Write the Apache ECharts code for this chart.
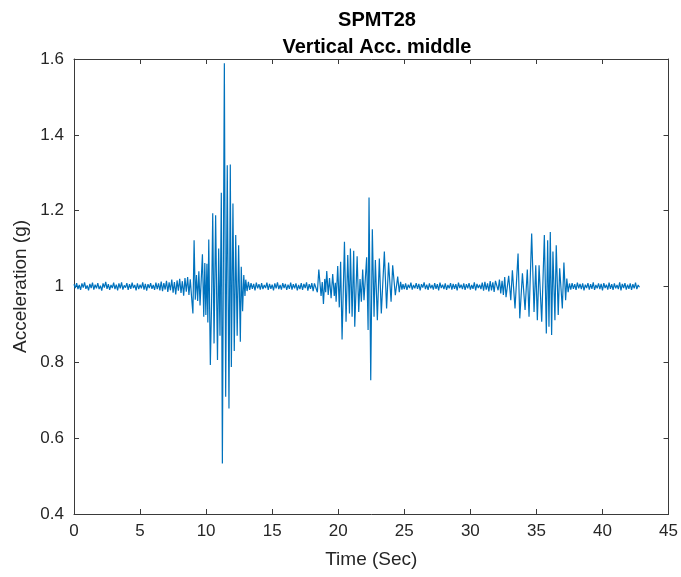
<!DOCTYPE html>
<html>
<head>
<meta charset="utf-8">
<script src="https://cdn.jsdelivr.net/npm/echarts@6/dist/echarts.min.js"></script>
<style>
html,body{margin:0;padding:0;background:#fff;}
#chart{width:681px;height:577px;}
</style>
</head>
<body>
<div id="chart"></div>
<script>
// ---- DATA ----
const titleMain = "SPMT28";
const titleSub = "Vertical Acc. middle";
const xName = "Time (Sec)";
const yName = "Acceleration (g)";
const xTicks = [0, 5, 10, 15, 20, 25, 30, 35, 40, 45];
const yTicks = [0.4, 0.6, 0.8, 1.0, 1.2, 1.4, 1.6];
const sampleStep = 0.1;

// quiet segment 0 : t = 0.0 .. 8.9
const quiet0Start = 0.0;
const quiet0 = [
  1.006, 0.996, 1.009, 0.993, 1.004, 0.991, 1.008, 0.997, 1.011, 0.994,
  1.003, 0.990, 1.007, 0.996, 1.010, 0.992, 1.005, 0.995, 1.009, 0.993,
  1.002, 0.989, 1.008, 0.997, 1.012, 0.994, 1.006, 0.991, 1.004, 0.996,
  1.010, 0.993, 1.005, 0.990, 1.008, 0.995, 1.011, 0.992, 1.003, 0.997,
  1.009, 0.991, 1.006, 0.994, 1.010, 0.996, 1.004, 0.990, 1.008, 0.993,
  1.005, 0.995, 1.011, 0.992, 1.007, 0.989, 1.006, 0.996, 1.009, 0.994,
  1.004, 0.991, 1.010, 0.993, 1.008, 0.990, 1.013, 0.988, 1.009, 0.992,
  1.015, 0.986, 1.011, 0.990, 1.018, 0.984, 1.012, 0.979, 1.016, 0.989,
  1.020, 0.983, 1.014, 0.976, 1.022, 0.986, 1.025, 0.978, 1.019, 0.972
];

// burst 1
const burst1T = [9.00, 9.09, 9.18, 9.27, 9.36, 9.45, 9.54, 9.63, 9.72, 9.82, 9.90, 9.98, 10.06, 10.13, 10.20, 10.32, 10.41, 10.50, 10.60, 10.72, 10.86, 10.95, 11.05, 11.15, 11.23, 11.38, 11.48, 11.60, 11.73, 11.83, 11.91, 12.03, 12.13, 12.24, 12.35, 12.46, 12.59, 12.66, 12.76, 12.85, 12.94];
const burst1V = [0.929, 1.122, 0.965, 1.030, 0.962, 1.040, 0.950, 0.955, 1.085, 0.920, 1.062, 0.925, 1.060, 0.905, 1.124, 0.793, 0.950, 1.193, 0.850, 1.188, 0.806, 1.100, 0.870, 1.247, 0.533, 1.589, 0.709, 1.320, 0.678, 1.322, 0.788, 1.219, 0.830, 1.136, 0.870, 1.109, 0.854, 1.052, 0.935, 1.030, 0.975];

// quiet segment 1 : t = 13.0 .. 18.2
const quiet1Start = 13.0;
const quiet1 = [
  1.018, 0.988, 1.012, 0.991, 1.009, 0.994, 1.007, 0.990, 1.010, 0.995,
  1.006, 0.992, 1.009, 0.993, 1.004, 0.996, 1.010, 0.991, 1.007, 0.994,
  1.005, 0.990, 1.008, 0.995, 1.011, 0.993, 1.004, 0.992, 1.009, 0.996,
  1.007, 0.991, 1.005, 0.994, 1.010, 0.992, 1.006, 0.995, 1.008, 0.990,
  1.004, 0.993, 1.009, 0.991, 1.007, 0.996, 1.011, 0.989, 1.006, 0.994,
  1.009, 0.988, 1.008
];

// burst 2
const burst2T = [18.30, 18.42, 18.53, 18.70, 18.79, 18.88, 18.98, 19.05, 19.13, 19.24, 19.34, 19.46, 19.58, 19.70, 19.78, 19.84, 19.96, 20.08, 20.18, 20.29, 20.47, 20.59, 20.72, 20.85, 20.92, 21.05, 21.17, 21.25, 21.43, 21.55, 21.65, 21.75, 21.85, 21.95, 22.15, 22.26, 22.33, 22.46, 22.58, 22.71, 22.81, 22.96, 23.11, 23.26, 23.49, 23.66, 23.81, 24.00, 24.12, 24.32, 24.50, 24.62, 24.72, 24.82];
const burst2V = [1.012, 0.985, 1.045, 0.975, 1.012, 0.954, 1.020, 0.985, 1.041, 0.978, 1.022, 0.969, 1.033, 0.975, 1.010, 0.960, 1.054, 0.945, 1.065, 0.860, 1.118, 0.907, 1.083, 0.929, 1.100, 0.920, 1.094, 0.894, 1.080, 0.933, 1.020, 0.960, 1.045, 0.964, 1.077, 0.885, 1.235, 0.753, 1.151, 0.920, 1.070, 0.911, 1.074, 0.929, 1.092, 0.942, 1.063, 0.960, 1.056, 0.977, 1.026, 0.985, 1.012, 0.992];

// quiet segment 2 : t = 24.9 .. 31.9
const quiet2Start = 24.9;
const quiet2 = [
  1.006,
  0.993, 1.008, 0.991, 1.005, 0.996, 1.010, 0.992, 1.004, 0.995, 1.009,
  0.994, 1.007, 0.990, 1.006, 0.997, 1.011, 0.993, 1.005, 0.991, 1.008,
  0.995, 1.004, 0.992, 1.009, 0.994, 1.006, 0.990, 1.010, 0.996, 1.005,
  0.993, 1.008, 0.991, 1.004, 0.995, 1.009, 0.992, 1.007, 0.994, 1.006,
  0.990, 1.010, 0.996, 1.005, 0.993, 1.008, 0.991, 1.006, 0.995, 1.009,
  0.992, 1.004, 0.994, 1.011, 0.990, 1.007, 0.996, 1.005, 0.993, 1.010,
  0.989, 1.012, 0.992, 1.008, 0.987, 1.014, 0.990, 1.011, 0.986, 1.015
];

// burst 3
const burst3T = [32.00, 32.10, 32.20, 32.30, 32.40, 32.50, 32.60, 32.70, 32.80, 32.90, 33.06, 33.18, 33.38, 33.61, 33.74, 33.94, 34.14, 34.31, 34.44, 34.64, 34.82, 34.95, 35.07, 35.20, 35.40, 35.60, 35.75, 35.85, 35.95, 36.05, 36.15, 36.25, 36.40, 36.50, 36.65, 36.76, 36.96, 37.08, 37.21, 37.30, 37.40, 37.50];
const burst3V = [1.010, 0.990, 1.018, 0.982, 1.015, 0.978, 1.025, 0.972, 1.000, 1.028, 0.964, 1.043, 0.942, 1.087, 0.916, 1.035, 0.938, 1.045, 0.920, 1.140, 0.933, 1.056, 0.911, 1.056, 0.907, 1.136, 0.876, 1.122, 0.894, 1.144, 0.872, 1.092, 0.911, 1.109, 0.925, 1.048, 0.942, 1.063, 0.964, 1.021, 0.985, 1.008];

// quiet segment 3 : t = 37.6 .. 42.8
const quiet3Start = 37.6;
const quiet3 = [
  0.992, 1.009, 0.994, 1.006,
  0.991, 1.010, 0.995, 1.007, 0.993, 1.008, 0.990, 1.005, 0.996, 1.009,
  0.992, 1.006, 0.994, 1.011, 0.991, 1.004, 0.995, 1.008, 0.993, 1.007,
  0.990, 1.009, 0.996, 1.005, 0.992, 1.010, 0.994, 1.006, 0.991, 1.008,
  0.995, 1.004, 0.993, 1.011, 0.990, 1.007, 0.996, 1.009, 0.992, 1.005,
  0.994, 1.008, 0.991, 1.006, 0.995, 1.010, 0.993, 1.004, 0.998
];

// ---- BUILD ----
function quietPairs(start, vals) {
  return vals.map((v, i) => [+(start + i * sampleStep).toFixed(2), v]);
}
function zipPairs(ts, vs) {
  return ts.map((t, i) => [t, vs[i]]);
}
const seriesData = [].concat(
  quietPairs(quiet0Start, quiet0),
  zipPairs(burst1T, burst1V),
  quietPairs(quiet1Start, quiet1),
  zipPairs(burst2T, burst2V),
  quietPairs(quiet2Start, quiet2),
  zipPairs(burst3T, burst3V),
  quietPairs(quiet3Start, quiet3)
);

const axisColor = '#3a3a3a';
const textColor = '#262626';
const fontFam = '"Liberation Sans", Arial, Helvetica, sans-serif';

const xMin = xTicks[0], xMax = xTicks[xTicks.length - 1], xInt = xTicks[1] - xTicks[0];
const yMin = yTicks[0], yMax = yTicks[yTicks.length - 1], yInt = +(yTicks[1] - yTicks[0]).toFixed(2);

function xAxisCfg(pos, showLabel) {
  return {
    type: 'value', position: pos, min: xMin, max: xMax, interval: xInt,
    name: showLabel ? xName : '', nameLocation: 'middle', nameGap: 36,
    nameMoveOverlap: false,
    nameTextStyle: { fontSize: 19, color: textColor, fontFamily: fontFam },
    axisLine: { show: true, onZero: false, lineStyle: { color: axisColor, width: 1 } },
    axisTick: { show: true, inside: true, length: 5, lineStyle: { color: axisColor } },
    axisLabel: { show: showLabel, fontSize: 17, color: textColor, fontFamily: fontFam, margin: 9 },
    splitLine: { show: false }
  };
}
function yAxisCfg(pos, showLabel) {
  return {
    type: 'value', position: pos, min: yMin, max: yMax, interval: yInt,
    name: showLabel ? yName : '', nameLocation: 'middle', nameGap: 44, nameRotate: 90,
    nameMoveOverlap: false,
    nameTextStyle: { fontSize: 19, color: textColor, fontFamily: fontFam },
    axisLine: { show: true, onZero: false, lineStyle: { color: axisColor, width: 1 } },
    axisTick: { show: true, inside: true, length: 5, lineStyle: { color: axisColor } },
    axisLabel: { show: showLabel, fontSize: 17, color: textColor, fontFamily: fontFam, margin: 10,
      formatter: v => String(+(+v).toFixed(1)) },
    splitLine: { show: false }
  };
}

const chart = echarts.init(document.getElementById('chart'), null, { renderer: 'canvas' });
chart.setOption({
  animation: false,
  backgroundColor: '#ffffff',
  title: [
    { text: titleMain, left: 372, top: 5, textAlign: 'center',
      textStyle: { fontSize: 20, fontWeight: 'bold', color: '#000', fontFamily: fontFam } },
    { text: titleSub, left: 372, top: 32, textAlign: 'center',
      textStyle: { fontSize: 20, fontWeight: 'bold', color: '#000', fontFamily: fontFam } }
  ],
  grid: { left: 74, right: 11, top: 59, bottom: 63, containLabel: false },
  xAxis: [xAxisCfg('bottom', true), xAxisCfg('top', false)],
  yAxis: [yAxisCfg('left', true), yAxisCfg('right', false)],
  series: [{
    type: 'line', xAxisIndex: 0, yAxisIndex: 0,
    data: seriesData, showSymbol: false, symbol: 'none',
    lineStyle: { color: '#0072BD', width: 1.2 },
    itemStyle: { color: '#0072BD' }
  }]
});
</script>
</body>
</html>
